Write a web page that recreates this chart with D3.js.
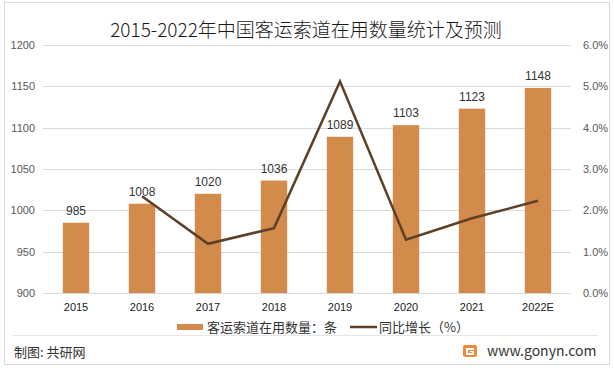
<!DOCTYPE html>
<html>
<head>
<meta charset="utf-8">
<script src="https://cdn.jsdelivr.net/npm/d3@7"></script>
<style>
  body { margin: 0; background: #fff; }
  text { font-family: "Liberation Sans", Arial, sans-serif; }
  .cjk { font-family: "Noto Sans CJK SC", sans-serif; }
</style>
</head>
<body>
<div id="chart-area"></div>
<script>
// data
const years = ["2015", "2016", "2017", "2018", "2019", "2020", "2021", "2022E"];
const counts = [985, 1008, 1020, 1036, 1089, 1103, 1123, 1148];
const growth = [null, 2.34, 1.19, 1.57, 5.12, 1.29, 1.81, 2.23];
const leftTicks = [900, 950, 1000, 1050, 1100, 1150, 1200];
const rightTicks = [0, 1, 2, 3, 4, 5, 6];

const W = 614, H = 370;
const m = { t: 45, l: 43, r: 43, b: 77 };
const width = W - m.l - m.r;
const height = H - m.t - m.b;

const barColor = "#D38B4C";
const lineColor = "#5E4026";

let svg = d3.select("#chart-area")
  .append("svg")
  .attr("width", W)
  .attr("height", H);

// frame
svg.append("rect")
  .attr("x", 4.5).attr("y", 2.5)
  .attr("width", 605).attr("height", 362)
  .attr("fill", "#fff")
  .attr("stroke", "#d9d9d9");

svg.append("line")
  .attr("x1", 12).attr("x2", 598)
  .attr("y1", 335.5).attr("y2", 335.5)
  .attr("stroke", "#e6e6e6");

// title
svg.append("text")
  .attr("class", "cjk")
  .attr("x", 306).attr("y", 37)
  .attr("text-anchor", "middle")
  .attr("font-size", "19px")
  .attr("font-weight", 300)
  .attr("fill", "#1a1a1a")
  .text("2015-2022年中国客运索道在用数量统计及预测");

let g = svg.append("g")
  .attr("transform", "translate(" + m.l + "," + m.t + ")");

let x = d3.scaleBand()
  .domain(years)
  .range([0, width])
  .paddingInner(0.6)
  .paddingOuter(0.3);

let y = d3.scaleLinear().domain([900, 1200]).range([height, 0]);
let y2 = d3.scaleLinear().domain([0, 6]).range([height, 0]);

// grid
g.selectAll(".grid")
  .data(leftTicks)
  .enter().append("line")
  .attr("x1", 0).attr("x2", width)
  .attr("y1", d => Math.round(y(d)) + 0.5)
  .attr("y2", d => Math.round(y(d)) + 0.5)
  .attr("stroke", "#d9d9d9");

// left axis
let yAxis = g.append("g")
  .call(d3.axisLeft(y).tickValues(leftTicks).tickSize(0).tickPadding(8).tickFormat(d3.format("d")));
yAxis.select(".domain").remove();
yAxis.selectAll("text").attr("font-size", "11px").attr("fill", "#595959")
  .attr("font-family", "Liberation Sans, Arial, sans-serif");

// right axis
let yAxis2 = g.append("g")
  .attr("transform", "translate(" + width + ",0)")
  .call(d3.axisRight(y2).tickValues(rightTicks).tickSize(0).tickPadding(12)
    .tickFormat(d => d.toFixed(1) + "%"));
yAxis2.select(".domain").remove();
yAxis2.selectAll("text").attr("font-size", "11px").attr("fill", "#595959")
  .attr("font-family", "Liberation Sans, Arial, sans-serif");

// x axis
let xAxis = g.append("g")
  .attr("transform", "translate(0," + height + ")")
  .call(d3.axisBottom(x).tickSize(0).tickPadding(10));
xAxis.select(".domain").remove();
xAxis.selectAll("text").attr("font-size", "11px").attr("fill", "#1a1a1a")
  .attr("font-family", "Liberation Sans, Arial, sans-serif");

// bars
g.selectAll(".bar")
  .data(counts)
  .enter().append("rect")
  .attr("x", (d, i) => x(years[i]))
  .attr("width", x.bandwidth())
  .attr("y", d => y(d))
  .attr("height", d => height - y(d))
  .attr("fill", barColor);

// bar labels
g.selectAll(".lbl")
  .data(counts)
  .enter().append("text")
  .attr("x", (d, i) => x(years[i]) + x.bandwidth() / 2)
  .attr("y", d => y(d) - 8)
  .attr("text-anchor", "middle")
  .attr("font-size", "12px")
  .attr("fill", "#333")
  .text(d => d);

// growth line
let pts = growth.map((v, i) => [years[i], v]).filter(p => p[1] !== null);
let line = d3.line()
  .x(p => x(p[0]) + x.bandwidth() / 2)
  .y(p => y2(p[1]));
g.append("path")
  .datum(pts)
  .attr("d", line)
  .attr("fill", "none")
  .attr("stroke", lineColor)
  .attr("stroke-width", 2.5)
  .attr("stroke-linejoin", "miter");

// legend
let lg = svg.append("g").attr("transform", "translate(0,327)");
lg.append("rect").attr("x", 177).attr("y", -3).attr("width", 26).attr("height", 6).attr("fill", barColor);
lg.append("text").attr("class", "cjk").attr("x", 207).attr("y", 5)
  .attr("font-size", "13px").attr("fill", "#333").text("客运索道在用数量：条");
lg.append("line").attr("x1", 350).attr("x2", 377).attr("y1", 0).attr("y2", 0)
  .attr("stroke", lineColor).attr("stroke-width", 2.5);
lg.append("text").attr("class", "cjk").attr("x", 379).attr("y", 5)
  .attr("font-size", "13px").attr("fill", "#333").text("同比增长（%）");

// footer
svg.append("text").attr("class", "cjk")
  .attr("x", 14).attr("y", 357)
  .attr("font-size", "13px").attr("fill", "#333")
  .text("制图: 共研网");

let logo = svg.append("g").attr("transform", "translate(463,345)");
logo.append("rect").attr("width", 14).attr("height", 12).attr("rx", 2).attr("fill", "#F08A3A");
logo.append("path")
  .attr("d", "M3,3 H11 V5 H5 V8 H9 V7 H7 V6 H11 V10 H3 Z")
  .attr("fill", "#fff");

svg.append("text").attr("class", "cjk")
  .attr("x", 487).attr("y", 356)
  .attr("font-size", "14px").attr("fill", "#333")
  .text("www.gonyn.com");
</script>
</body>
</html>
